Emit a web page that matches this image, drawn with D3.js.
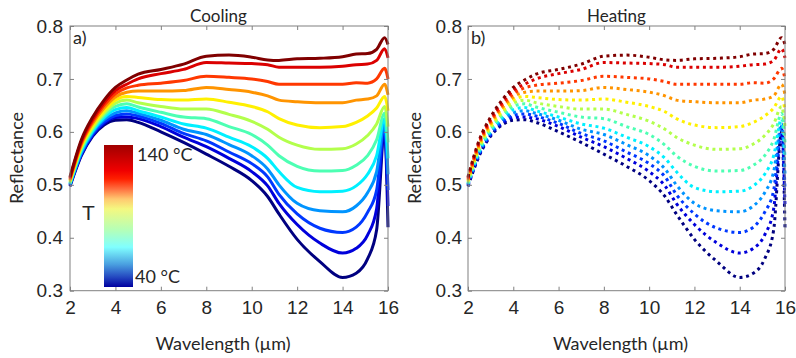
<!DOCTYPE html>
<html lang="en">
<head>
<meta charset="UTF-8">
<title>Reflectance vs wavelength — cooling / heating</title>
<script src="https://d3js.org/d3.v7.min.js"></script>
<style>
  body { margin: 0; background: #fff; }
  svg { display: block; }
  .tick text { font-family: "Liberation Sans", Arial, sans-serif; font-size: 19px; fill: #262626; }
  .tick line { stroke: #808080; }
  .lbl { font-family: Lato, "Open Sans", sans-serif; fill: #262626; }
</style>
</head>
<body>
<svg id="chart" width="796" height="358"></svg>
<script>
// wavelength grid (µm) the curves were read at
const wavelength = [2, 2.5, 3, 3.5, 4, 4.5, 5, 6, 7, 8, 9, 10, 10.7, 11.2, 12, 13, 14, 14.6, 15.1, 15.5, 15.85, 16];

// temperatures, one curve each (°C)
const temps = [40, 49, 58, 67, 76, 85, 95, 104, 113, 122, 131, 140];

// reflectance, cooling run, same order as temps
const cooling = [
  [0.497, 0.555, 0.592, 0.613, 0.622, 0.623, 0.618, 0.600, 0.580, 0.558, 0.535, 0.508, 0.478, 0.445, 0.397, 0.355, 0.325, 0.333, 0.360, 0.415, 0.600, 0.420],
  [0.499, 0.557, 0.594, 0.616, 0.627, 0.628, 0.625, 0.610, 0.590, 0.572, 0.550, 0.525, 0.498, 0.465, 0.425, 0.390, 0.371, 0.380, 0.405, 0.455, 0.605, 0.460],
  [0.500, 0.559, 0.596, 0.619, 0.631, 0.634, 0.630, 0.616, 0.597, 0.583, 0.562, 0.540, 0.515, 0.482, 0.445, 0.418, 0.410, 0.420, 0.448, 0.490, 0.610, 0.490],
  [0.501, 0.561, 0.599, 0.623, 0.636, 0.640, 0.635, 0.622, 0.605, 0.595, 0.576, 0.555, 0.530, 0.500, 0.465, 0.451, 0.449, 0.460, 0.485, 0.525, 0.615, 0.520],
  [0.502, 0.564, 0.602, 0.627, 0.642, 0.646, 0.640, 0.628, 0.615, 0.607, 0.590, 0.572, 0.550, 0.525, 0.495, 0.487, 0.488, 0.498, 0.520, 0.555, 0.625, 0.550],
  [0.503, 0.567, 0.605, 0.631, 0.648, 0.653, 0.647, 0.637, 0.628, 0.625, 0.610, 0.595, 0.575, 0.555, 0.535, 0.526, 0.527, 0.537, 0.555, 0.585, 0.635, 0.580],
  [0.505, 0.570, 0.608, 0.635, 0.654, 0.660, 0.655, 0.648, 0.643, 0.643, 0.633, 0.620, 0.605, 0.590, 0.575, 0.567, 0.568, 0.577, 0.593, 0.615, 0.648, 0.610],
  [0.507, 0.573, 0.612, 0.640, 0.660, 0.667, 0.665, 0.661, 0.660, 0.662, 0.656, 0.648, 0.638, 0.625, 0.613, 0.608, 0.610, 0.618, 0.630, 0.645, 0.667, 0.640],
  [0.509, 0.576, 0.616, 0.645, 0.666, 0.675, 0.677, 0.677, 0.678, 0.684, 0.680, 0.675, 0.668, 0.660, 0.657, 0.655, 0.655, 0.660, 0.662, 0.668, 0.690, 0.670],
  [0.511, 0.579, 0.620, 0.650, 0.672, 0.683, 0.688, 0.692, 0.697, 0.705, 0.703, 0.700, 0.695, 0.690, 0.690, 0.690, 0.690, 0.693, 0.692, 0.700, 0.720, 0.700],
  [0.513, 0.582, 0.624, 0.655, 0.678, 0.690, 0.700, 0.710, 0.718, 0.731, 0.730, 0.729, 0.727, 0.722, 0.722, 0.722, 0.724, 0.727, 0.728, 0.735, 0.757, 0.740],
  [0.515, 0.585, 0.628, 0.660, 0.684, 0.698, 0.709, 0.718, 0.728, 0.743, 0.745, 0.741, 0.736, 0.735, 0.738, 0.739, 0.742, 0.747, 0.748, 0.756, 0.778, 0.765]
];

// heating run reads the same as cooling at this resolution
const heating = cooling;

const xTicks = [2, 4, 6, 8, 10, 12, 14, 16];
const yTicks = [0.3, 0.4, 0.5, 0.6, 0.7, 0.8];

// MATLAB jet colormap
function jet(t) {
  const c = v => Math.round(255 * Math.max(0, Math.min(1, v)));
  return `rgb(${c(1.5 - Math.abs(4 * t - 3))},${c(1.5 - Math.abs(4 * t - 2))},${c(1.5 - Math.abs(4 * t - 1))})`;
}
const color = d3.scaleSequential(jet).domain([40, 140]);

const svg = d3.select("#chart");
const y = d3.scaleLinear().domain([0.3, 0.8]).range([290.7, 26]);

function panel(opts) {
  const x = d3.scaleLinear().domain([2, 16]).range([opts.left, opts.right]);
  const g = svg.append("g");

  // curves, coolest first
  const line = d3.line().x((d, i) => x(wavelength[i])).y(d => y(d)).curve(d3.curveMonotoneX);
  g.selectAll("path.curve")
    .data(opts.data)
    .enter().append("path")
    .attr("class", "curve")
    .attr("d", line)
    .attr("fill", "none")
    .attr("stroke", (d, i) => color(temps[i]))
    .attr("stroke-width", 3)
    .attr("stroke-dasharray", opts.dotted ? "3,3.7" : null)
    .attr("stroke-linejoin", "round");

  // axes, ticks pointing inwards on all four sides
  const bottom = g.append("g").attr("transform", `translate(0,${y.range()[0]})`)
    .call(d3.axisBottom(x).tickValues(xTicks).tickSizeInner(-4).tickSizeOuter(0).tickPadding(10));
  const top = g.append("g").attr("transform", `translate(0,${y.range()[1]})`)
    .call(d3.axisTop(x).tickValues(xTicks).tickSizeInner(-4).tickSizeOuter(0).tickFormat(""));
  const left = g.append("g").attr("transform", `translate(${opts.left},0)`)
    .call(d3.axisLeft(y).tickValues(yTicks).tickSizeInner(-4).tickSizeOuter(0).tickPadding(opts.ypad).tickFormat(d3.format(".1f")));
  const right = g.append("g").attr("transform", `translate(${opts.right},0)`)
    .call(d3.axisRight(y).tickValues(yTicks).tickSizeInner(-4).tickSizeOuter(0).tickFormat(""));
  [bottom, top, left, right].forEach(a => a.select(".domain").remove());

  g.append("rect")
    .attr("x", opts.left).attr("y", y.range()[1])
    .attr("width", opts.right - opts.left).attr("height", y.range()[0] - y.range()[1])
    .attr("fill", "none").attr("stroke", "#808080");

  g.append("text").attr("class", "lbl").attr("x", opts.titleX).attr("y", 21.5)
    .attr("text-anchor", "middle").style("font-size", "17px").text(opts.title);
  g.append("text").attr("class", "lbl").attr("x", opts.left + 3).attr("y", 44)
    .style("font-size", "18px").text(opts.tag);
  g.append("text").attr("class", "lbl").attr("x", (opts.left + opts.right) / 2 - 6).attr("y", 350)
    .attr("text-anchor", "middle").style("font-size", "18px").text("Wavelength (µm)");
  g.append("text").attr("class", "lbl")
    .attr("transform", `translate(${opts.ylabX},158) rotate(-90)`)
    .attr("text-anchor", "middle").style("font-size", "18px").text("Reflectance");
}

panel({ data: cooling, left: 70, right: 388, title: "Cooling", titleX: 218.5, tag: "a)", ypad: 7, ylabX: 23, dotted: false });
panel({ data: heating, left: 468, right: 785, title: "Heating", titleX: 616.5, tag: "b)", ypad: 6, ylabX: 421, dotted: true });

// colour bar inside panel a
const grad = svg.append("defs").append("linearGradient")
  .attr("id", "cbar").attr("x1", 0).attr("y1", 0).attr("x2", 0).attr("y2", 1);
[[0, "#a00000"], [0.18, "#f00000"], [0.24, "#ff2000"], [0.31, "#ff7040"], [0.38, "#ffc870"],
 [0.45, "#f4f880"], [0.6, "#b4ffb8"], [0.72, "#80ffff"], [0.84, "#4aa0e0"], [0.93, "#2448c0"], [1, "#0000a0"]]
  .forEach(s => grad.append("stop").attr("offset", s[0]).attr("stop-color", s[1]));
svg.append("rect").attr("x", 104).attr("y", 145).attr("width", 29).attr("height", 142).attr("fill", "url(#cbar)");
svg.append("text").attr("class", "lbl").attr("x", 137).attr("y", 161).style("font-size", "18px").text("140 °C");
svg.append("text").attr("class", "lbl").attr("x", 135).attr("y", 283).style("font-size", "18px").text("40 °C");
svg.append("text").attr("x", 82).attr("y", 220)
  .style("font-family", "'Liberation Sans', Arial, sans-serif").style("font-size", "21px").style("fill", "#262626").text("T");
</script>
</body>
</html>
